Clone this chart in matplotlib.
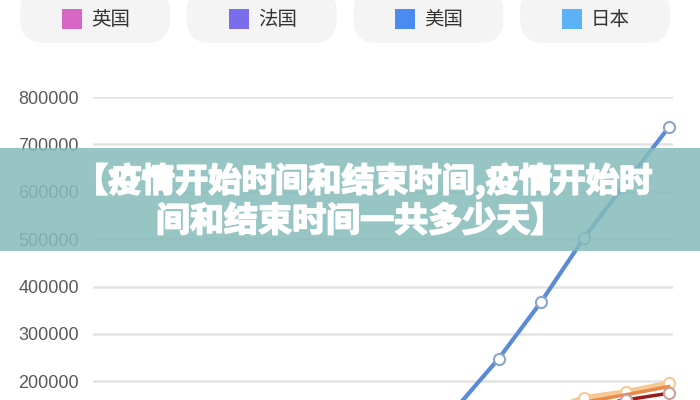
import matplotlib
matplotlib.use('Agg')
import matplotlib.pyplot as plt
import matplotlib.patheffects as pe
from matplotlib.patches import FancyBboxPatch, Rectangle

plt.rcParams['font.family'] = ['Noto Sans CJK SC', 'DejaVu Sans']

# data (x axis falls below the visible crop)
days = ['3/1', '3/3', '3/5', '3/7', '3/9', '3/11', '3/13', '3/15',
        '3/17', '3/19', '3/21', '3/23', '3/25', '3/27']
us = [100, 500, 1500, 4000, 10000, 22000, 40000, 65000,
      144000, 248000, 368000, 502000, 620000, 736000]
peach = [50, 300, 1200, 3000, 8000, 18000, 32000, 50000,
         75000, 105000, 135000, 165000, 178000, 196000]
orange = [40, 250, 1000, 2500, 7000, 15000, 28000, 45000,
          68000, 95000, 125000, 156000, 172000, 189000]
darkred = [30, 200, 800, 2000, 6000, 13000, 25000, 40000,
           60000, 88000, 118000, 147000, 161000, 175000]

legend_names = ['英国', '法国', '美国', '日本']
legend_colors = ['#d667c4', '#7a6ceb', '#4a8bf0', '#5bb2f6']
yticks = [200000, 300000, 400000, 500000, 600000, 700000, 800000]

banner_lines = ['【疫情开始时间和结束时间,疫情开始时', '间和结束时间一共多少天】']

fig = plt.figure(figsize=(7, 4), dpi=100)
fig.patch.set_facecolor('white')

# main axes: extends below the figure, like the cropped screenshot
ax = fig.add_axes([93/700, 1 - 476.2/400, 580/700, 379.2/400])
x = list(range(len(days)))
ax.plot(x, peach, '-', color='#f6c894', lw=4, marker='o', ms=8,
        mfc='white', mec='#f6c894', mew=1.5, clip_on=False, zorder=3)
ax.plot(x, orange, '-', color='#e98a4a', lw=2.5, zorder=3)
ax.plot(x, darkred, '-', color='#9b1b1b', lw=2.5, marker='o', ms=8,
        mfc='white', mec='#c9a0a0', mew=1.5, clip_on=False, zorder=4)
ax.plot(x, us, '-', color='#5a8bd8', lw=3, marker='o', ms=8,
        mfc='white', mec='#8aa6cc', mew=1.5, clip_on=False, zorder=5)
ax.set_xlim(-0.54, 13.1)
ax.set_ylim(0, 800000)
ax.set_yticks(yticks)
ax.set_yticklabels([str(v) for v in yticks], fontsize=13,
                   family='Liberation Sans', color='#5a5a5a')
ax.tick_params(axis='y', length=0, pad=10)
ax.set_xticks([])
ax.grid(axis='y', color='#e4e4e4', lw=1.8)
ax.set_axisbelow(True)
for s in ax.spines.values():
    s.set_visible(False)

# overlay in pixel coordinates for legend pills and the banner
ov = fig.add_axes([0, 0, 1, 1], zorder=10)
ov.set_xlim(0, 700)
ov.set_ylim(400, 0)
ov.axis('off')
ov.patch.set_alpha(0)

for i, (name, c) in enumerate(zip(legend_names, legend_colors)):
    x0 = 20 + i * 166.7
    ov.add_patch(FancyBboxPatch((x0, -12), 150, 55,
                                boxstyle='round,pad=0,rounding_size=24',
                                fc='#f4f4f4', ec='none'))
    ov.add_patch(Rectangle((x0 + 42, 9), 20, 20, fc=c, ec='none'))
    ov.text(x0 + 71, 19.5, name, fontsize=14, color='#333333',
            va='center', ha='left')

ov.add_patch(Rectangle((0, 148), 700, 103, fc='#85bcbb', ec='none', alpha=0.86))
thick = [pe.withStroke(linewidth=1.3, foreground='white')]
ov.text(364, 181, banner_lines[0], fontsize=24, fontweight='heavy',
        color='white', ha='center', va='center', path_effects=thick)
ov.text(360, 221, banner_lines[1], fontsize=24.5, fontweight='heavy',
        color='white', ha='center', va='center', path_effects=thick)

fig.savefig('out.png', dpi=100)
